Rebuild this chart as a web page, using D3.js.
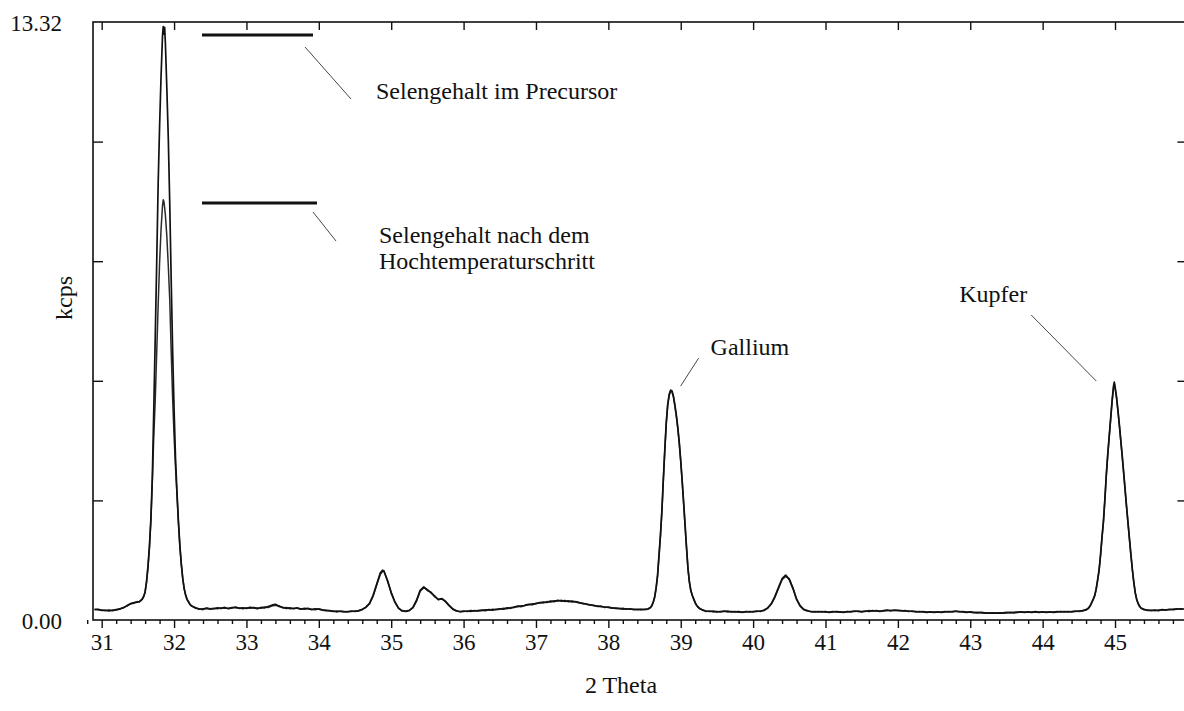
<!DOCTYPE html>
<html><head><meta charset="utf-8">
<script src="https://cdn.jsdelivr.net/npm/d3@7"></script>
<style>
html,body{margin:0;padding:0;background:#fff;}
svg{display:block;}
text{font-family:"Liberation Serif","Times New Roman",serif;fill:#111;}
</style></head>
<body>
<svg id="chart" width="1184" height="711"></svg>
<script>
// ---- data ----
const twoTheta = [
30.90,30.95,31.00,31.05,31.10,31.15,31.20,31.25,31.30,31.35,
31.40,31.45,31.50,31.52,31.54,31.56,31.58,31.60,31.62,31.64,
31.66,31.68,31.70,31.72,31.74,31.76,31.78,31.80,31.82,31.84,
31.85,31.86,31.87,31.88,31.90,31.92,31.94,31.96,31.98,32.00,
32.02,32.04,32.06,32.08,32.10,32.12,32.14,32.16,32.18,32.20,
32.22,32.24,32.30,32.35,32.40,32.45,32.50,32.55,32.60,32.65,
32.70,32.75,32.80,32.85,32.90,32.95,33.00,33.05,33.10,33.15,
33.20,33.25,33.30,33.35,33.40,33.45,33.50,33.55,33.60,33.65,
33.70,33.75,33.80,33.85,33.90,33.95,34.00,34.05,34.10,34.15,
34.20,34.25,34.30,34.35,34.40,34.45,34.50,34.55,34.60,34.65,
34.70,34.75,34.80,34.85,34.88,34.90,34.95,35.00,35.05,35.10,
35.15,35.20,35.25,35.30,35.35,35.40,35.45,35.50,35.55,35.60,
35.65,35.70,35.75,35.80,35.85,35.90,35.95,36.00,36.05,36.10,
36.15,36.20,36.25,36.30,36.35,36.40,36.45,36.50,36.55,36.60,
36.65,36.70,36.75,36.80,36.85,36.90,36.95,37.00,37.05,37.10,
37.15,37.20,37.25,37.30,37.35,37.40,37.45,37.50,37.55,37.60,
37.65,37.70,37.75,37.80,37.85,37.90,37.95,38.00,38.05,38.10,
38.15,38.20,38.25,38.30,38.35,38.40,38.45,38.50,38.55,38.58,
38.60,38.62,38.64,38.66,38.68,38.70,38.72,38.74,38.76,38.78,
38.80,38.82,38.84,38.86,38.88,38.90,38.92,38.94,38.96,38.98,
39.00,39.02,39.04,39.06,39.08,39.10,39.12,39.14,39.16,39.18,
39.20,39.22,39.24,39.26,39.30,39.35,39.40,39.45,39.50,39.55,
39.60,39.65,39.70,39.75,39.80,39.85,39.90,39.95,40.00,40.05,
40.10,40.15,40.20,40.25,40.30,40.35,40.40,40.45,40.50,40.55,
40.60,40.65,40.70,40.75,40.80,40.85,40.90,40.95,41.00,41.05,
41.10,41.15,41.20,41.25,41.30,41.35,41.40,41.45,41.50,41.55,
41.60,41.65,41.70,41.75,41.80,41.85,41.90,41.95,42.00,42.05,
42.10,42.15,42.20,42.25,42.30,42.35,42.40,42.45,42.50,42.55,
42.60,42.65,42.70,42.75,42.80,42.85,42.90,42.95,43.00,43.05,
43.10,43.15,43.20,43.25,43.30,43.35,43.40,43.45,43.50,43.55,
43.60,43.65,43.70,43.75,43.80,43.85,43.90,43.95,44.00,44.05,
44.10,44.15,44.20,44.25,44.30,44.35,44.40,44.45,44.50,44.55,
44.60,44.62,44.64,44.66,44.68,44.70,44.72,44.74,44.76,44.78,
44.80,44.82,44.84,44.86,44.88,44.90,44.92,44.94,44.96,44.98,
44.99,45.00,45.02,45.04,45.06,45.08,45.10,45.12,45.14,45.16,
45.18,45.20,45.22,45.24,45.26,45.28,45.30,45.32,45.34,45.36,
45.40,45.45,45.50,45.55,45.60,45.65,45.70,45.75,45.80,45.85,
45.90,45.95];

// kcps, Selengehalt im Precursor
const precursor = [
0.24,0.23,0.22,0.21,0.22,0.21,0.23,0.25,0.27,0.32,
0.36,0.38,0.40,0.41,0.43,0.46,0.52,0.62,0.86,1.20,
1.65,2.25,3.20,4.70,6.30,7.95,9.70,11.00,12.10,13.00,
13.22,13.05,13.20,12.85,11.85,10.75,9.30,7.60,6.00,4.70,
3.60,2.85,2.20,1.65,1.25,0.92,0.70,0.55,0.46,0.40,
0.35,0.31,0.27,0.24,0.25,0.26,0.24,0.25,0.27,0.26,
0.28,0.25,0.27,0.29,0.26,0.27,0.26,0.28,0.27,0.25,
0.28,0.27,0.30,0.33,0.35,0.30,0.28,0.26,0.27,0.25,
0.27,0.24,0.26,0.25,0.23,0.25,0.24,0.22,0.21,0.20,
0.19,0.20,0.19,0.18,0.19,0.20,0.19,0.21,0.24,0.28,
0.37,0.55,0.80,1.05,1.11,1.08,0.88,0.60,0.40,0.27,
0.20,0.19,0.21,0.28,0.44,0.66,0.74,0.66,0.62,0.52,
0.46,0.47,0.41,0.32,0.24,0.20,0.19,0.20,0.19,0.21,
0.20,0.21,0.22,0.21,0.23,0.22,0.24,0.25,0.24,0.27,
0.26,0.29,0.31,0.30,0.33,0.35,0.34,0.37,0.38,0.40,
0.39,0.42,0.41,0.44,0.42,0.43,0.41,0.42,0.40,0.38,
0.37,0.35,0.34,0.32,0.31,0.30,0.29,0.28,0.27,0.26,
0.25,0.26,0.24,0.25,0.23,0.24,0.23,0.24,0.25,0.28,
0.32,0.40,0.52,0.72,1.00,1.45,1.90,2.45,3.15,3.80,
4.40,4.80,5.02,5.12,5.10,4.98,4.78,4.55,4.28,3.95,
3.55,3.10,2.62,2.12,1.62,1.15,0.84,0.65,0.55,0.46,
0.38,0.33,0.29,0.26,0.22,0.20,0.19,0.20,0.18,0.19,
0.20,0.18,0.19,0.18,0.19,0.17,0.19,0.18,0.19,0.20,
0.19,0.22,0.26,0.36,0.52,0.72,0.92,1.00,0.90,0.70,
0.46,0.31,0.23,0.20,0.19,0.18,0.19,0.18,0.19,0.17,
0.18,0.19,0.18,0.17,0.19,0.18,0.20,0.19,0.18,0.20,
0.19,0.21,0.20,0.19,0.21,0.22,0.20,0.22,0.21,0.20,
0.21,0.19,0.20,0.18,0.19,0.18,0.17,0.18,0.17,0.18,
0.17,0.18,0.19,0.18,0.20,0.19,0.18,0.17,0.18,0.17,
0.16,0.17,0.16,0.15,0.16,0.15,0.16,0.15,0.16,0.17,
0.16,0.17,0.18,0.17,0.18,0.17,0.18,0.17,0.18,0.17,
0.18,0.17,0.18,0.19,0.18,0.19,0.18,0.19,0.20,0.21,
0.23,0.25,0.28,0.33,0.40,0.47,0.55,0.70,0.90,1.12,
1.45,1.85,2.20,2.70,3.25,3.70,4.10,4.50,4.90,5.22,
5.30,5.20,4.98,4.68,4.35,4.00,3.65,3.28,2.90,2.52,
2.16,1.80,1.45,1.12,0.84,0.60,0.45,0.36,0.30,0.26,
0.23,0.22,0.21,0.22,0.21,0.23,0.22,0.24,0.23,0.24,
0.25,0.24];

// kcps, Selengehalt nach dem Hochtemperaturschritt
const afterHT = [
0.23,0.24,0.21,0.22,0.20,0.22,0.22,0.24,0.28,0.31,
0.37,0.39,0.41,0.40,0.44,0.47,0.53,0.63,0.85,1.18,
1.62,2.22,3.10,4.10,4.90,5.95,7.00,7.95,8.70,9.22,
9.36,9.32,9.18,9.02,8.55,7.90,7.15,6.00,4.95,4.10,
3.40,2.80,2.18,1.66,1.24,0.93,0.69,0.56,0.45,0.41,
0.34,0.32,0.26,0.25,0.23,0.27,0.25,0.26,0.25,0.27,
0.26,0.26,0.28,0.27,0.27,0.25,0.27,0.26,0.28,0.27,
0.26,0.29,0.28,0.31,0.33,0.32,0.27,0.28,0.25,0.26,
0.26,0.25,0.24,0.26,0.24,0.23,0.25,0.23,0.22,0.21,
0.20,0.18,0.20,0.19,0.18,0.19,0.20,0.20,0.23,0.29,
0.36,0.53,0.78,1.02,1.08,1.10,0.86,0.62,0.41,0.26,
0.21,0.20,0.22,0.27,0.42,0.64,0.72,0.68,0.60,0.54,
0.45,0.48,0.42,0.33,0.25,0.21,0.18,0.19,0.20,0.19,
0.21,0.20,0.21,0.23,0.22,0.24,0.23,0.24,0.26,0.25,
0.28,0.28,0.30,0.32,0.32,0.34,0.36,0.36,0.39,0.38,
0.41,0.40,0.43,0.42,0.44,0.41,0.43,0.40,0.41,0.39,
0.36,0.36,0.33,0.33,0.30,0.31,0.28,0.29,0.26,0.27,
0.26,0.24,0.25,0.24,0.24,0.23,0.24,0.23,0.24,0.27,
0.31,0.39,0.50,0.70,0.98,1.42,1.88,2.42,3.12,3.78,
4.37,4.78,5.00,5.10,5.08,4.96,4.76,4.53,4.26,3.93,
3.53,3.08,2.60,2.10,1.60,1.14,0.85,0.66,0.54,0.47,
0.39,0.32,0.28,0.25,0.23,0.19,0.20,0.18,0.19,0.18,
0.19,0.20,0.18,0.19,0.17,0.18,0.18,0.19,0.18,0.19,
0.20,0.21,0.27,0.35,0.50,0.70,0.90,0.97,0.92,0.72,
0.47,0.32,0.24,0.21,0.18,0.19,0.18,0.19,0.17,0.18,
0.19,0.18,0.17,0.18,0.18,0.19,0.19,0.20,0.19,0.19,
0.21,0.20,0.21,0.20,0.20,0.21,0.22,0.21,0.22,0.21,
0.20,0.20,0.19,0.19,0.18,0.19,0.18,0.17,0.18,0.17,
0.18,0.19,0.18,0.19,0.19,0.18,0.19,0.18,0.17,0.16,
0.17,0.16,0.15,0.16,0.15,0.16,0.15,0.16,0.17,0.16,
0.17,0.18,0.17,0.18,0.17,0.18,0.19,0.18,0.17,0.18,
0.17,0.18,0.19,0.18,0.19,0.18,0.19,0.20,0.19,0.20,
0.22,0.24,0.27,0.32,0.39,0.46,0.54,0.68,0.88,1.10,
1.43,1.82,2.18,2.67,3.22,3.68,4.08,4.47,4.86,5.18,
5.26,5.18,4.96,4.66,4.33,3.98,3.63,3.26,2.88,2.50,
2.14,1.79,1.44,1.11,0.83,0.61,0.46,0.37,0.31,0.27,
0.24,0.21,0.22,0.21,0.22,0.22,0.23,0.23,0.24,0.25,
0.24,0.25];

const xTickLabels = [31,32,33,34,35,36,37,38,39,40,41,42,43,44,45];
const yTickLabels = ["0.00","13.32"];
const yMax = 13.32;
const xLabel = "2 Theta";
const yLabel = "kcps";
const legendLabels = ["Selengehalt im Precursor", ["Selengehalt nach dem","Hochtemperaturschritt"]];
const peakLabels = [{name:"Gallium", theta:38.86, value:5.12},{name:"Kupfer", theta:44.99, value:5.30}];

// ---- layout ----
const svg = d3.select("#chart");
const pL = 93, pR = 1187.4, pT = 22, pB = 620;
const x = d3.scaleLinear().domain([30.88, 46.0]).range([pL, pR]);
const y = d3.scaleLinear().domain([0, yMax]).range([pB, pT]);

svg.append("rect").attr("width",1184).attr("height",711).attr("fill","#fff");

svg.append("defs").append("clipPath").attr("id","plotclip")
  .append("rect").attr("x",pL).attr("y",pT).attr("width",pR-pL).attr("height",pB-pT);

// data lines
const rowsA = twoTheta.map((t,i)=>({t, v: precursor[i]})).filter(d=>d.v!=null);
const rowsB = twoTheta.map((t,i)=>({t, v: afterHT[i]})).filter(d=>d.v!=null);
const line = d3.line().x(d=>x(d.t)).y(d=>y(d.v)).curve(d3.curveLinear);
const g = svg.append("g").attr("clip-path","url(#plotclip)");
g.append("path").datum(rowsB).attr("d",line).attr("fill","none")
  .attr("stroke","#2a2a2a").attr("stroke-width",1.5).attr("stroke-linejoin","round");
g.append("path").datum(rowsA).attr("d",line).attr("fill","none")
  .attr("stroke","#111").attr("stroke-width",1.7).attr("stroke-linejoin","round");

// axes
const minorTicks = d3.range(30.8, 46.01, 0.2).map(v=>+v.toFixed(1)).filter(v=>!Number.isInteger(v));
const yInnerTicks = d3.range(1,5).map(i=>i*yMax/5);

function styleAxis(sel){ sel.select(".domain").remove(); sel.selectAll("line").attr("stroke","#111").attr("stroke-width",1.4); }

svg.append("g").attr("transform",`translate(0,${pB})`)
  .call(d3.axisBottom(x).tickValues(minorTicks).tickSize(4).tickFormat(""))
  .call(styleAxis);
const xb = svg.append("g").attr("transform",`translate(0,${pB})`)
  .call(d3.axisBottom(x).tickValues(xTickLabels).tickSize(8).tickPadding(6).tickFormat(d3.format("d")))
  .call(styleAxis);
xb.selectAll("text").attr("font-size",23).attr("font-family","Liberation Serif, serif").attr("fill","#111");

svg.append("g").attr("transform",`translate(0,${pT})`)
  .call(d3.axisTop(x).tickValues(xTickLabels).tickSize(-8).tickFormat(""))
  .call(styleAxis);

svg.append("g").attr("transform",`translate(${pL},0)`)
  .call(d3.axisLeft(y).tickValues(yInnerTicks).tickSize(-10).tickFormat(""))
  .call(styleAxis);
svg.append("g").attr("transform",`translate(${pR},0)`)
  .call(d3.axisRight(y).tickValues(yInnerTicks).tickSize(-10).tickFormat(""))
  .call(styleAxis);
const yl = svg.append("g").attr("transform",`translate(${pL},0)`)
  .call(d3.axisLeft(y).tickValues([0, yMax]).tickSize(0).tickPadding(31).tickFormat((d,i)=>yTickLabels[i]))
  .call(styleAxis);
yl.selectAll("text").attr("font-size",23).attr("font-family","Liberation Serif, serif").attr("fill","#111").attr("dy","0.35em");

// frame
svg.append("rect").attr("x",pL).attr("y",pT).attr("width",pR-pL).attr("height",pB-pT)
  .attr("fill","none").attr("stroke","#111").attr("stroke-width",1.6);

// axis titles
svg.append("text").attr("x",621).attr("y",693).attr("text-anchor","middle").attr("font-size",24).text(xLabel);
svg.append("text").attr("transform","translate(72,298) rotate(-90)").attr("text-anchor","middle").attr("font-size",24).text(yLabel);

// legend-style annotations
const ann = svg.append("g");
ann.append("line").attr("x1",202).attr("x2",313).attr("y1",35).attr("y2",35).attr("stroke","#111").attr("stroke-width",3);
ann.append("line").attr("x1",305).attr("y1",47).attr("x2",351).attr("y2",99).attr("stroke","#333").attr("stroke-width",0.9);
ann.append("text").attr("x",376).attr("y",99).attr("font-size",24).text(legendLabels[0]);

ann.append("line").attr("x1",202).attr("x2",317).attr("y1",203).attr("y2",203).attr("stroke","#111").attr("stroke-width",3);
ann.append("line").attr("x1",313).attr("y1",212).attr("x2",336).attr("y2",241).attr("stroke","#333").attr("stroke-width",0.9);
ann.append("text").attr("x",379).attr("y",243).attr("font-size",24).text(legendLabels[1][0]);
ann.append("text").attr("x",379).attr("y",269).attr("font-size",24).text(legendLabels[1][1]);

// peak labels
const ga = peakLabels[0], cu = peakLabels[1];
ann.append("line").attr("x1",x(ga.theta)+10).attr("y1",y(ga.value)-4).attr("x2",x(ga.theta)+28).attr("y2",y(ga.value)-32)
  .attr("stroke","#333").attr("stroke-width",0.9);
ann.append("text").attr("x",x(ga.theta)+40).attr("y",y(ga.value)-35).attr("font-size",24).text(ga.name);
ann.append("line").attr("x1",x(cu.theta)-18).attr("y1",y(cu.value)-1).attr("x2",x(cu.theta)-83).attr("y2",y(cu.value)-67)
  .attr("stroke","#333").attr("stroke-width",0.9);
ann.append("text").attr("x",x(cu.theta)-155).attr("y",y(cu.value)-80).attr("font-size",24).text(cu.name);
</script>
</body></html>
